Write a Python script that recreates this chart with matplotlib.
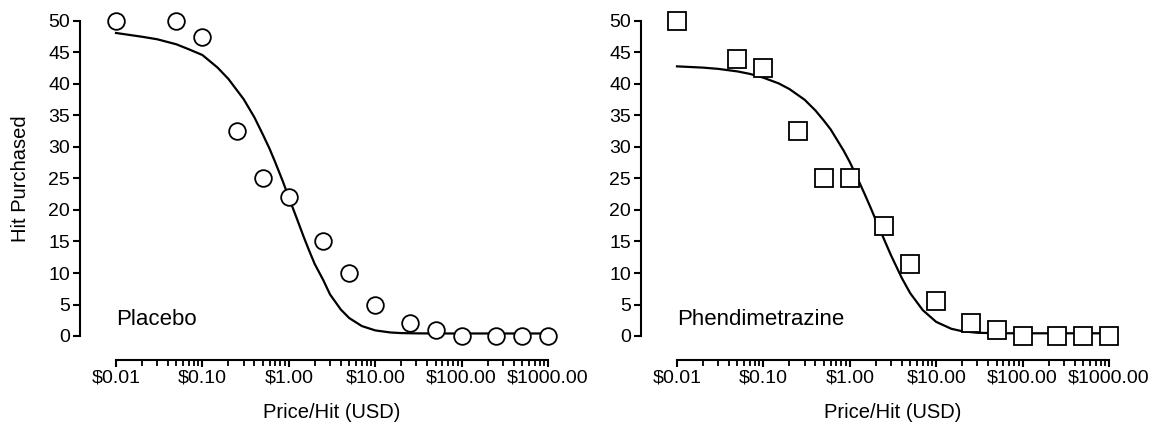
import matplotlib
matplotlib.use("Agg")
import matplotlib.pyplot as plt
from matplotlib.ticker import LogLocator, NullFormatter

plt.rcParams['font.family'] = ['Liberation Sans', 'DejaVu Sans']

# ---- data ----
prices = [0.01, 0.05, 0.1, 0.25, 0.5, 1, 2.5, 5, 10, 25, 50, 100, 250, 500, 1000]
placebo = [50, 50, 47.5, 32.5, 25, 22, 15, 10, 5, 2, 1, 0, 0, 0, 0]
phendimetrazine = [50, 44, 42.5, 32.5, 25, 25, 17.5, 11.5, 5.5, 2, 1, 0, 0, 0, 0]

# fitted curves
curve_prices = [0.01, 0.02, 0.03, 0.05, 0.07, 0.1, 0.15, 0.2, 0.3, 0.4, 0.5, 0.6,
                0.7, 0.85, 1.0, 1.25, 1.5, 1.75, 2.0, 2.5, 3.0, 4.0, 5.0, 7.0,
                10, 15, 20, 30, 50, 100, 1000]
placebo_fit = [48.1, 47.5, 47.1, 46.3, 45.5, 44.6, 42.6, 40.8, 37.6, 34.7, 32.0, 29.7,
               27.5, 24.6, 22.0, 18.5, 15.6, 13.3, 11.4, 8.9, 6.6, 4.2, 2.85, 1.58,
               0.89, 0.56, 0.46, 0.42, 0.4, 0.4, 0.4]
phen_fit = [42.8, 42.6, 42.4, 42.0, 41.6, 41.0, 40.1, 39.2, 37.5, 35.8, 34.2, 32.8,
            31.3, 29.4, 27.6, 24.8, 22.4, 20.3, 18.4, 15.3, 12.8, 9.2, 6.8, 4.1,
            2.24, 1.14, 0.76, 0.51, 0.44, 0.43, 0.43]

xtick_vals = [0.01, 0.1, 1, 10, 100, 1000]
xtick_labels = ["$0.01", "$0.10", "$1.00", "$10.00", "$100.00", "$1000.00"]
ytick_vals = [0, 5, 10, 15, 20, 25, 30, 35, 40, 45, 50]

W, H = 1165, 428
fig = plt.figure(figsize=(W / 100, H / 100), dpi=100)

def make_ax(x0, x1):
    return fig.add_axes([x0 / W, (H - 336) / H, (x1 - x0) / W, (336 - 21) / H])

panels = [
    (make_ax(116, 548), placebo, placebo_fit, 'o', 12, "Placebo", True),
    (make_ax(677, 1109), phendimetrazine, phen_fit, 's', 13, "Phendimetrazine", False),
]

for ax, pts, fit, mk, ms, name, ylab in panels:
    ax.set_xscale('log')
    ax.set_xlim(0.01, 1000)
    ax.set_ylim(0, 50)
    ax.plot(curve_prices, fit, color='black', lw=1.6, clip_on=False, zorder=2)
    ax.plot(prices, pts, linestyle='none', marker=mk, markersize=ms,
            markerfacecolor='white', markeredgecolor='black', markeredgewidth=1.3,
            clip_on=False, zorder=3)
    for s in ['top', 'right']:
        ax.spines[s].set_visible(False)
    ax.spines['left'].set_position(('outward', 26))
    ax.spines['bottom'].set_position(('outward', 17.3))
    ax.spines['left'].set_linewidth(1.5)
    ax.spines['bottom'].set_linewidth(1.5)
    ax.set_xticks(xtick_vals)
    ax.set_xticklabels(xtick_labels)
    ax.xaxis.set_minor_locator(LogLocator(base=10, subs=range(2, 10), numticks=20))
    ax.xaxis.set_minor_formatter(NullFormatter())
    ax.set_yticks(ytick_vals)
    ax.tick_params(axis='both', which='major', direction='out', length=5, width=1.5,
                   labelsize=14, pad=2)
    ax.tick_params(axis='x', which='minor', direction='out', length=4, width=1.3)
    ax.set_xlabel("Price/Hit (USD)", fontsize=14.5, labelpad=12)
    if ylab:
        ax.set_ylabel("Hit Purchased", fontsize=14.5, labelpad=13)
    ax.text(0.01, 1.8, name, fontsize=16, ha='left', va='baseline')
    ax.patch.set_visible(False)

fig.savefig("out.png", dpi=100)
